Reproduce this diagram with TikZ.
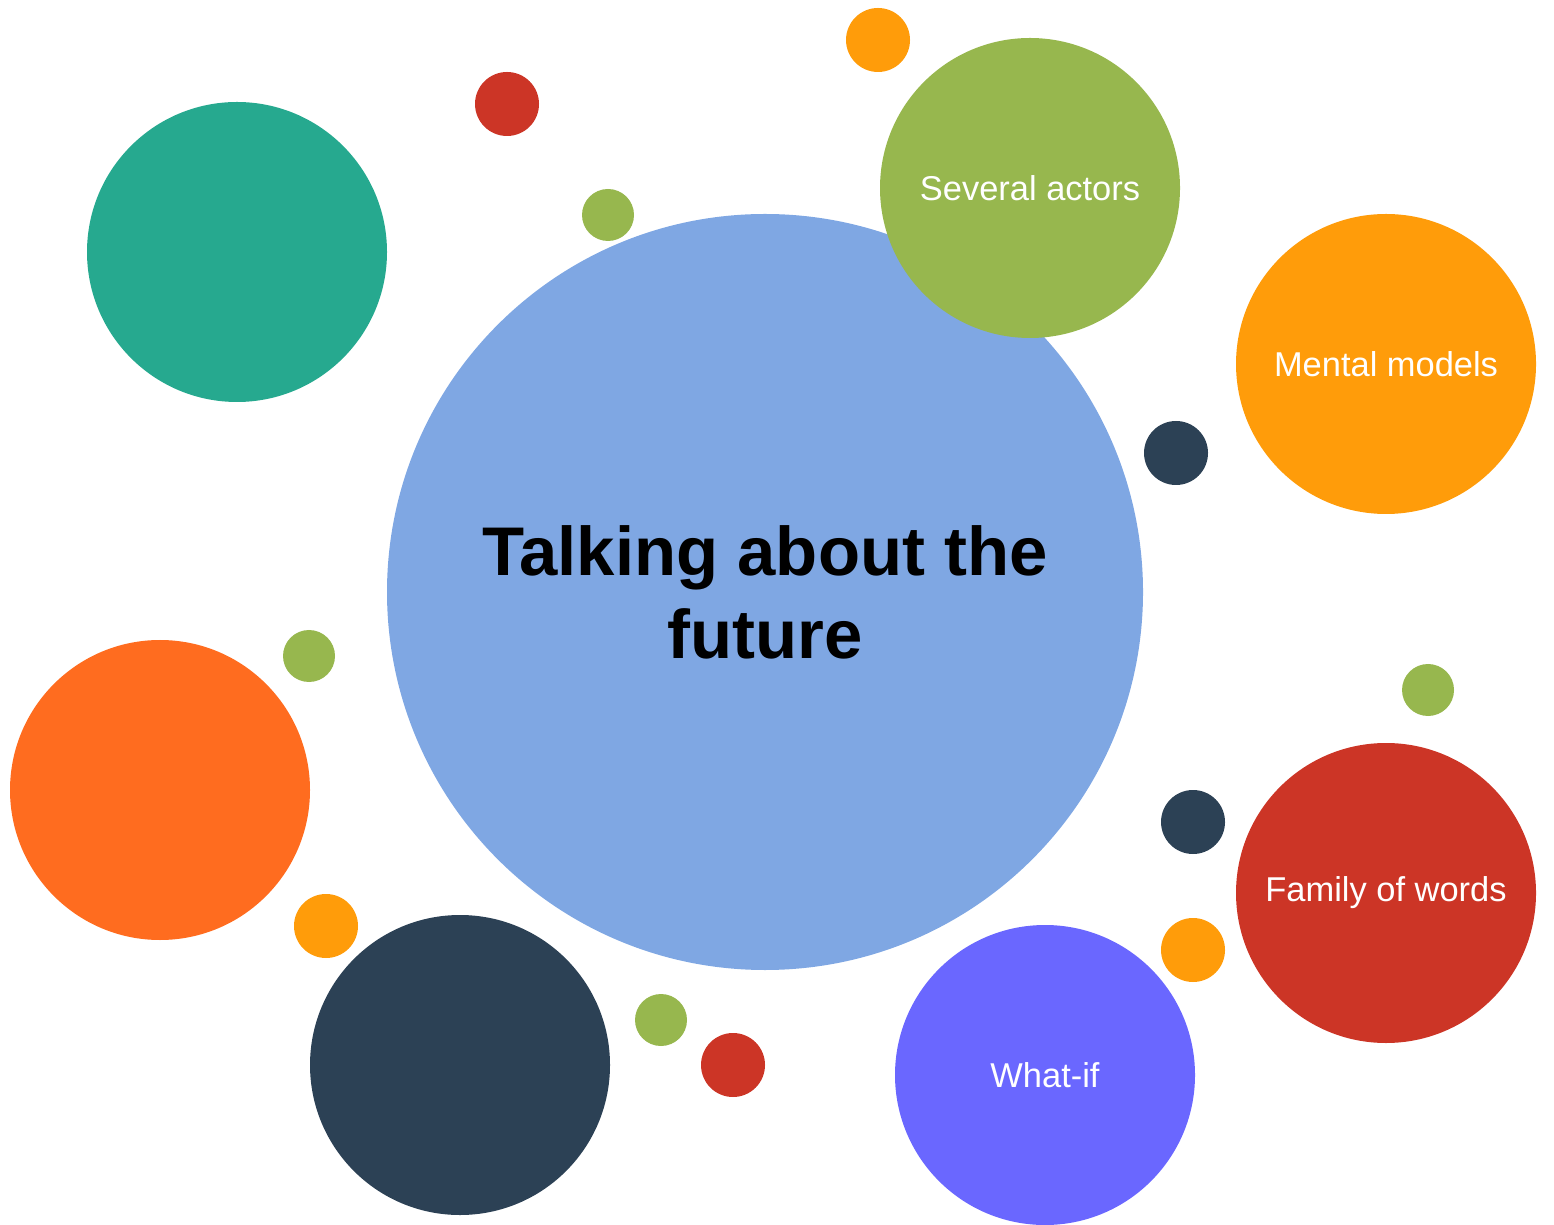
\documentclass[tikz,border=0pt]{standalone}
\usepackage{fontspec}
\setmainfont{Liberation Sans}
\definecolor{centreblue}{HTML}{7FA7E3}
\definecolor{teal}{HTML}{26A98F}
\definecolor{leafgreen}{HTML}{97B74E}
\definecolor{amber}{HTML}{FF9C0A}
\definecolor{tangerine}{HTML}{FF6C1F}
\definecolor{navy}{HTML}{2C4155}
\definecolor{violet}{HTML}{6A67FF}
\definecolor{brick}{HTML}{CC3526}
\begin{document}
\begin{tikzpicture}[
  every node/.style = {shape=circle, inner sep=0pt, align=center},
    bubble/.style={minimum size=3cm, text=white, font=\fontsize{9.8}{11}\selectfont},
    bigdot/.style={minimum size=0.64cm},
    smalldot/.style={minimum size=0.52cm}]

  \useasboundingbox (0,0) rectangle (15.54,-12.25);

  \node[fill=centreblue, minimum size=7.56cm, font=\bfseries\fontsize{19.6}{23.6}\selectfont]
    (topic) at (7.65,-5.92) {Talking about the\\future};

  \node[bubble, fill=teal]      (teal)    at (2.37,-2.52) {};
  \node[bubble, fill=leafgreen] (actors)  at (10.30,-1.88) {Several actors};
  \node[bubble, fill=amber]     (mental)  at (13.86,-3.64) {Mental models};
  \node[bubble, fill=tangerine] (orange)  at (1.60,-7.90) {};
  \node[bubble, fill=navy]      (navy)    at (4.60,-10.65) {};
  \node[bubble, fill=violet]    (whatif)  at (10.45,-10.75) {What-if};
  \node[bubble, fill=brick]     (family)  at (13.86,-8.93) {Family of words};

  \node[bigdot, fill=amber]       (d1)  at (8.78,-0.40) {};
  \node[bigdot, fill=brick]       (d2)  at (5.07,-1.04) {};
  \node[smalldot, fill=leafgreen] (d3)  at (6.08,-2.15) {};
  \node[bigdot, fill=navy]        (d4)  at (11.76,-4.53) {};
  \node[smalldot, fill=leafgreen] (d5)  at (3.09,-6.56) {};
  \node[smalldot, fill=leafgreen] (d6)  at (14.28,-6.90) {};
  \node[bigdot, fill=navy]        (d7)  at (11.93,-8.22) {};
  \node[bigdot, fill=amber]       (d8)  at (3.26,-9.26) {};
  \node[bigdot, fill=amber]       (d9)  at (11.93,-9.50) {};
  \node[smalldot, fill=leafgreen] (d10) at (6.61,-10.20) {};
  \node[bigdot, fill=brick]       (d11) at (7.33,-10.65) {};

\end{tikzpicture}
\end{document}
